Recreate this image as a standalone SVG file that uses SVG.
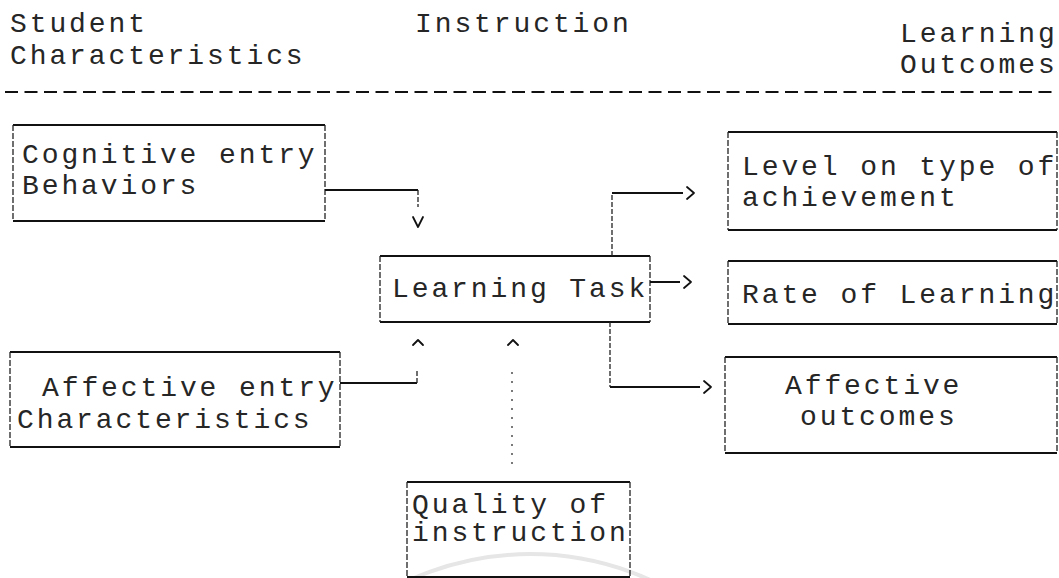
<svg xmlns="http://www.w3.org/2000/svg" width="1059" height="578" viewBox="0 0 1059 578">
<defs>
<style>
.t{font-family:"Liberation Mono","Courier New",monospace;font-size:28px;letter-spacing:2.9px;fill:#262626}
.h{stroke:#111;stroke-width:2;fill:none}
.v{stroke:#222;stroke-width:1.3;stroke-dasharray:6 2;fill:none}
.c{stroke:#111;stroke-width:2;fill:none}
.cv{stroke:#222;stroke-width:1.3;stroke-dasharray:5 2;fill:none}
.dot{stroke:#333;stroke-width:1.3;stroke-dasharray:2 7;fill:none}
.ah{stroke:#111;stroke-width:1.8;fill:none;stroke-linecap:round;stroke-linejoin:round}
.wm{stroke:#e6e6e6;stroke-width:4;fill:none}
</style>
</defs>
<rect width="1059" height="578" fill="#fff"/>
<g id="watermark">
<path class="wm" d="M 240 812 A 292 292 0 0 1 820 812"/>
</g>
<g id="header">
<text class="t" x="10" y="32">Student</text>
<text class="t" x="10" y="64">Characteristics</text>
<text class="t" x="415" y="32">Instruction</text>
<text class="t" x="900" y="42">Learning</text>
<text class="t" x="900" y="73">Outcomes</text>
<path d="M5 92 H1057" stroke="#111" stroke-width="2" stroke-dasharray="13 6.5"/>
</g>
<g id="cognitive">
<path class="h" d="M13 125 H325 M13 221 H325"/>
<path class="v" d="M13 125 V221 M325 125 V221"/>
<text class="t" x="22" y="163">Cognitive entry</text>
<text class="t" x="22" y="194">Behaviors</text>
</g>
<g id="affective-entry">
<path class="h" d="M10 352 H340 M10 447 H340"/>
<path class="v" d="M10 352 V447 M340 352 V447"/>
<text class="t" x="42" y="396">Affective entry</text>
<text class="t" x="17" y="428">Characteristics</text>
</g>
<g id="learning-task">
<path class="h" d="M380 256 H650 M380 322 H650"/>
<path class="v" d="M380 256 V322 M650 256 V322"/>
<text class="t" x="392" y="297">Learning Task</text>
</g>
<g id="quality">
<path class="h" d="M407 482 H630 M407 577 H630"/>
<path class="v" d="M407 482 V577 M630 482 V577"/>
<text class="t" x="412" y="513">Quality of</text>
<text class="t" x="412" y="541">instruction</text>
</g>
<g id="level">
<path class="h" d="M728 132 H1057 M728 230 H1057"/>
<path class="v" d="M728 132 V230 M1057 132 V230"/>
<text class="t" x="742" y="175">Level on type of</text>
<text class="t" x="742" y="206">achievement</text>
</g>
<g id="rate">
<path class="h" d="M728 261 H1057 M728 324 H1057"/>
<path class="v" d="M728 261 V324 M1057 261 V324"/>
<text class="t" x="742" y="303">Rate of Learning</text>
</g>
<g id="affective-outcomes">
<path class="h" d="M725 357 H1057 M725 453 H1057"/>
<path class="v" d="M725 357 V453 M1057 357 V453"/>
<text class="t" x="785" y="394">Affective</text>
<text class="t" x="800" y="425">outcomes</text>
</g>
<g id="connectors">
<path class="c" d="M325 190 H418"/>
<path class="cv" d="M418 190 V207"/>
<path class="ah" d="M413 217 L418 227 L423 217"/>
<path class="c" d="M340 383 H417"/>
<path class="cv" d="M417 383 V370"/>
<path class="ah" d="M413 345 L418 340 L423 345"/>
<path class="dot" d="M512 372 V468"/>
<path class="ah" d="M508 345 L513 340 L518 345"/>
<path class="cv" d="M612 256 V193"/>
<path class="c" d="M612 193 H683"/>
<path class="ah" d="M687 187 L694 193 L687 199"/>
<path class="c" d="M650 282 H680"/>
<path class="ah" d="M684 276 L691 282 L684 288"/>
<path class="cv" d="M610 322 V387"/>
<path class="c" d="M610 387 H700"/>
<path class="ah" d="M704 381 L711 387 L704 393"/>
</g>
</svg>
